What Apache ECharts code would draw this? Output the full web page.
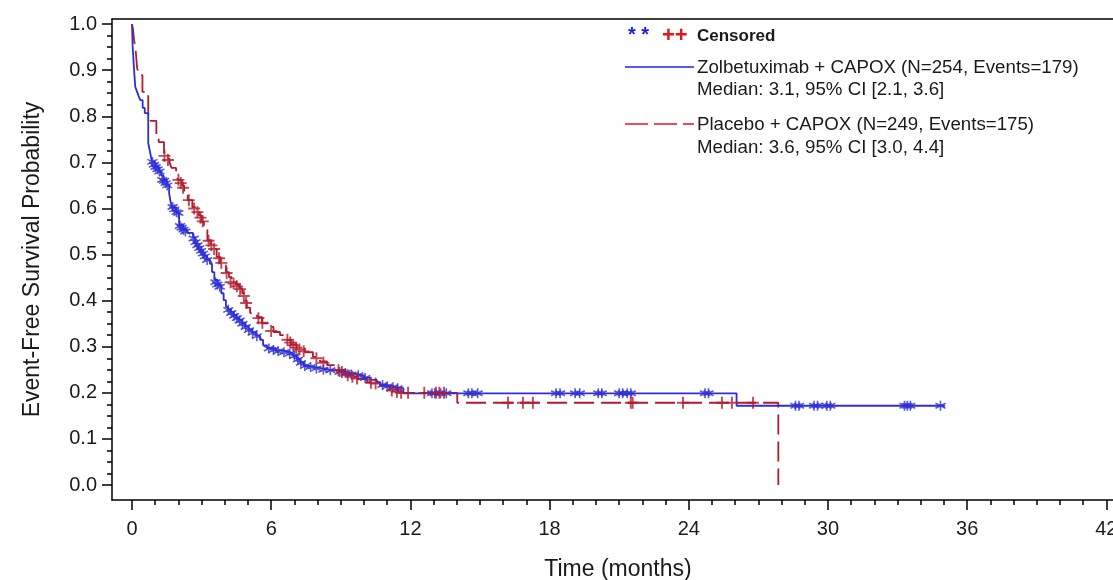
<!DOCTYPE html>
<html>
<head>
<meta charset="utf-8">
<script src="https://cdn.jsdelivr.net/npm/echarts@6/dist/echarts.min.js"></script>
<style>
html,body{margin:0;padding:0;background:#fff;}
#chart{width:1113px;height:580px;}
</style>
</head>
<body>
<div id="chart"></div>
<script>
// ---- Data ----
const blueName = 'Zolbetuximab + CAPOX (N=254, Events=179)';
const blueMedian = 'Median: 3.1, 95% CI [2.1, 3.6]';
const redName = 'Placebo + CAPOX (N=249, Events=175)';
const redMedian = 'Median: 3.6, 95% CI [3.0, 4.4]';

// Kaplan-Meier steps: [time (months), survival probability]
const blueSteps = [
  [0,1.0],[0.03,0.950],[0.09,0.900],[0.14,0.864],[0.22,0.853],[0.30,0.842],[0.36,0.835],
  [0.46,0.818],[0.55,0.807],[0.70,0.742],[0.78,0.722],[0.86,0.701],[1.00,0.690],[1.15,0.680],
  [1.25,0.672],[1.35,0.662],[1.50,0.650],[1.60,0.633],[1.66,0.615],[1.72,0.603],[1.90,0.592],
  [2.03,0.564],[2.20,0.555],[2.37,0.547],[2.63,0.538],[2.72,0.528],[2.80,0.521],[2.88,0.515],
  [2.96,0.509],[3.04,0.503],[3.12,0.497],[3.22,0.489],[3.36,0.480],[3.45,0.462],[3.55,0.445],
  [3.70,0.434],[3.85,0.416],[3.95,0.401],[4.05,0.386],[4.14,0.381],[4.25,0.375],[4.37,0.369],
  [4.50,0.363],[4.62,0.358],[4.74,0.351],[4.88,0.344],[5.02,0.337],[5.18,0.331],[5.35,0.324],
  [5.52,0.315],[5.65,0.303],[5.82,0.297],[6.20,0.292],[6.50,0.289],[6.75,0.286],[6.94,0.281],
  [7.10,0.273],[7.25,0.266],[7.40,0.258],[7.65,0.256],[7.90,0.253],[8.20,0.250],[8.50,0.249],
  [8.84,0.245],[9.15,0.243],[9.40,0.240],[9.70,0.238],[10.00,0.233],[10.26,0.228],[10.56,0.223],
  [10.69,0.217],[10.95,0.214],[11.20,0.212],[11.40,0.210],[11.70,0.199],[26.06,0.172],[35.04,0.172]
];
const redSteps = [
  [0,1.0],[0.04,0.990],[0.09,0.965],[0.15,0.948],[0.22,0.905],[0.30,0.889],[0.45,0.853],
  [0.56,0.846],[0.70,0.803],[0.80,0.790],[1.05,0.760],[1.15,0.744],[1.38,0.716],[1.45,0.708],
  [1.62,0.700],[1.70,0.688],[1.90,0.672],[1.98,0.662],[2.15,0.650],[2.25,0.636],[2.40,0.618],
  [2.60,0.603],[2.75,0.597],[2.88,0.585],[3.00,0.571],[3.10,0.553],[3.25,0.531],[3.38,0.522],
  [3.50,0.512],[3.65,0.495],[3.80,0.477],[4.05,0.462],[4.18,0.451],[4.30,0.440],[4.48,0.434],
  [4.62,0.427],[4.75,0.416],[4.85,0.400],[4.95,0.385],[5.09,0.373],[5.39,0.364],[5.60,0.351],
  [5.85,0.343],[6.10,0.332],[6.38,0.325],[6.65,0.315],[6.85,0.305],[7.10,0.297],[7.45,0.288],
  [7.80,0.278],[8.10,0.268],[8.41,0.260],[8.80,0.250],[9.20,0.239],[9.70,0.230],[10.13,0.223],
  [10.69,0.215],[11.10,0.207],[11.50,0.200],[14.02,0.1785],[27.86,0.0]
];
// Censored observations
const blueCensor = [
  [0.88,0.701],[0.95,0.695],[1.02,0.690],[1.10,0.685],[1.18,0.680],
  [1.30,0.662],[1.38,0.660],[1.45,0.655],[1.52,0.650],
  [1.75,0.603],[1.82,0.598],[1.92,0.592],[2.00,0.590],
  [2.07,0.562],[2.14,0.558],[2.22,0.554],[2.30,0.550],
  [2.66,0.535],[2.74,0.527],[2.82,0.520],[2.90,0.514],[2.98,0.508],[3.06,0.502],[3.14,0.496],[3.24,0.488],
  [3.60,0.440],[3.68,0.435],[3.78,0.430],
  [4.15,0.380],[4.28,0.373],[4.40,0.367],[4.52,0.362],[4.64,0.357],[4.76,0.350],[4.90,0.343],[5.04,0.336],[5.20,0.330],[5.38,0.323],
  [5.90,0.296],[6.10,0.293],[6.30,0.290],[6.55,0.288],[6.80,0.285],
  [7.00,0.280],[7.15,0.272],[7.28,0.265],[7.45,0.258],
  [7.70,0.256],[7.95,0.253],[8.25,0.250],[8.55,0.249],
  [8.95,0.245],[9.20,0.243],[9.45,0.240],[9.75,0.238],[10.05,0.232],
  [10.80,0.217],[11.00,0.214],[11.25,0.212],[11.45,0.210],
  [12.93,0.199],[13.05,0.199],[13.30,0.199],[13.55,0.199],
  [14.50,0.199],[14.65,0.199],[14.90,0.199],
  [18.28,0.199],[18.45,0.199],[19.10,0.199],[19.30,0.199],[20.10,0.199],[20.25,0.199],
  [21.00,0.199],[21.15,0.199],[21.35,0.199],[21.50,0.199],[24.70,0.199],[24.85,0.199],
  [28.60,0.172],[28.75,0.172],[29.40,0.172],[29.55,0.172],[29.95,0.172],[30.10,0.172],
  [33.30,0.172],[33.42,0.172],[33.55,0.172],[34.85,0.172]
];
const redCensor = [
  [1.40,0.714],[1.55,0.705],
  [2.00,0.662],[2.10,0.655],[2.20,0.645],
  [2.45,0.618],
  [2.68,0.600],[2.82,0.592],[2.95,0.580],[3.05,0.572],
  [3.30,0.530],[3.42,0.520],[3.54,0.512],
  [3.75,0.492],[3.85,0.482],
  [4.08,0.460],
  [4.25,0.440],[4.38,0.437],[4.52,0.431],[4.66,0.425],
  [4.82,0.410],[4.92,0.395],
  [5.45,0.362],[5.62,0.352],
  [6.00,0.334],
  [6.70,0.315],[6.82,0.309],[6.95,0.303],[7.08,0.298],[7.22,0.294],[7.40,0.290],
  [7.95,0.275],[8.25,0.265],
  [8.90,0.249],[9.05,0.245],
  [9.30,0.238],[9.50,0.235],[9.70,0.231],
  [10.30,0.222],[10.50,0.220],
  [11.20,0.205],[11.42,0.202],[11.60,0.200],[11.90,0.200],[12.60,0.200],
  [13.10,0.200],[13.25,0.200],[13.45,0.200],
  [16.21,0.1785],[16.85,0.1785],[17.28,0.1785],[21.50,0.1785],[21.58,0.1785],
  [23.75,0.1785],[25.43,0.1785],[25.86,0.1785],[26.77,0.1785]
];
// Tick values
const xMajorTicks = [0,6,12,18,24,30,36,42];
const xMinorTicks = [0,1,2,3,4,5,6,7,8,9,10,11,12,13,14,15,16,17,18,19,20,21,22,23,24,25,26,27,28,29,30,31,32,33,34,35,36,37,38,39,40,41,42];
const yMajorTicks = [0,0.1,0.2,0.3,0.4,0.5,0.6,0.7,0.8,0.9,1.0];
const yMinorTicks = [0,0.025,0.05,0.075,0.1,0.125,0.15,0.175,0.2,0.225,0.25,0.275,0.3,0.325,0.35,0.375,0.4,0.425,0.45,0.475,0.5,0.525,0.55,0.575,0.6,0.625,0.65,0.675,0.7,0.725,0.75,0.775,0.8,0.825,0.85,0.875,0.9,0.925,0.95,0.975,1.0];

// ---- Styles ----
const BLUE = '#2E2ED6';
const RED = '#B31B2C';
const FONT = '"Liberation Sans", Arial, sans-serif';
const TXT = '#1a1a1a';
const X_MIN = -0.862, X_MAX = 42.76, Y_MIN = -0.0325, Y_MAX = 1.011;

const plusPath = 'path://M0,5 L10,5 M5,0 L5,10';
const starPath = 'path://M5,0 L5,10 M0.67,2.5 L9.33,7.5 M0.67,7.5 L9.33,2.5';

const chart = echarts.init(document.getElementById('chart'), null, {renderer:'canvas'});
const axisLine = {show:true, onZero:false, lineStyle:{color:'#000', width:1.5}};
const option = {
  animation:false,
  backgroundColor:'#fff',
  grid:{left:112, top:19, width:1012, height:481, containLabel:false, outerBoundsMode:'none'},
  xAxis:[
    {type:'value', min:X_MIN, max:X_MAX, position:'bottom', axisLine:axisLine,
     axisTick:{show:true, customValues:xMajorTicks, length:10, lineStyle:{color:'#000', width:1.5}},
     axisLabel:{show:true, customValues:xMajorTicks, fontSize:20, fontFamily:FONT, color:TXT, margin:19},
     splitLine:{show:false},
     name:'Time (months)', nameLocation:'middle', nameGap:58,
     nameTextStyle:{fontSize:23, fontFamily:FONT, color:TXT}},
    {type:'value', min:X_MIN, max:X_MAX, position:'bottom', axisLine:{show:false, onZero:false},
     axisTick:{show:true, customValues:xMinorTicks, length:5, lineStyle:{color:'#000', width:1.5}},
     axisLabel:{show:false}, splitLine:{show:false}},
    {type:'value', min:X_MIN, max:X_MAX, position:'top', axisLine:axisLine,
     axisTick:{show:false}, axisLabel:{show:false}, splitLine:{show:false}}
  ],
  yAxis:[
    {type:'value', min:Y_MIN, max:Y_MAX, position:'left', axisLine:axisLine,
     axisTick:{show:true, customValues:yMajorTicks, length:10, lineStyle:{color:'#000', width:1.5}},
     axisLabel:{show:true, customValues:yMajorTicks, fontSize:20, fontFamily:FONT, color:TXT, margin:15,
       formatter:v=>v.toFixed(1)},
     splitLine:{show:false},
     name:'Event-Free Survival Probability', nameLocation:'middle', nameGap:68,
     nameTextStyle:{fontSize:23, fontFamily:FONT, color:TXT}},
    {type:'value', min:Y_MIN, max:Y_MAX, position:'left', axisLine:{show:false, onZero:false},
     axisTick:{show:true, customValues:yMinorTicks, length:5, lineStyle:{color:'#000', width:1.5}},
     axisLabel:{show:false}, splitLine:{show:false}}
  ],
  series:[
    {name:'blue', type:'line', step:'end', data:blueSteps, showSymbol:false, symbol:'none',
     lineStyle:{color:BLUE, width:1.8}, z:3},
    {name:'red', type:'line', step:'end', data:redSteps, showSymbol:false, symbol:'none',
     lineStyle:{color:RED, width:1.8, type:[20,7]}, z:2},
    {name:'blueC', type:'scatter', data:blueCensor, symbol:starPath, symbolSize:10,
     itemStyle:{color:'rgba(0,0,0,0)', borderColor:BLUE, borderWidth:1.6}, z:4},
    {name:'redC', type:'scatter', data:redCensor, symbol:plusPath, symbolSize:12,
     itemStyle:{color:'rgba(0,0,0,0)', borderColor:RED, borderWidth:1.9}, z:4}
  ],
  graphic:[
    {type:'text', left:628, top:25, style:{text:'* *', fill:'#2020E8', font:'bold 20px '+FONT}},
    {type:'text', left:662, top:25, style:{text:'++', fill:'#E8141C', font:'bold 22px '+FONT}},
    {type:'text', left:697, top:28, style:{text:'Censored', fill:TXT, font:'bold 17px '+FONT}},
    {type:'line', shape:{x1:625, y1:67, x2:694, y2:67}, style:{stroke:'#2020E8', lineWidth:1.5}},
    {type:'text', left:697, top:58, style:{text:blueName, fill:TXT, font:'18.7px '+FONT}},
    {type:'text', left:697, top:80, style:{text:blueMedian, fill:TXT, font:'18.7px '+FONT}},
    {type:'line', shape:{x1:625, y1:124, x2:694, y2:124}, style:{stroke:'#E8141C', lineWidth:1.5, lineDash:[23,6]}},
    {type:'text', left:697, top:115, style:{text:redName, fill:TXT, font:'18.7px '+FONT}},
    {type:'text', left:697, top:138, style:{text:redMedian, fill:TXT, font:'18.7px '+FONT}}
  ]
};
chart.setOption(option);
</script>
</body>
</html>
